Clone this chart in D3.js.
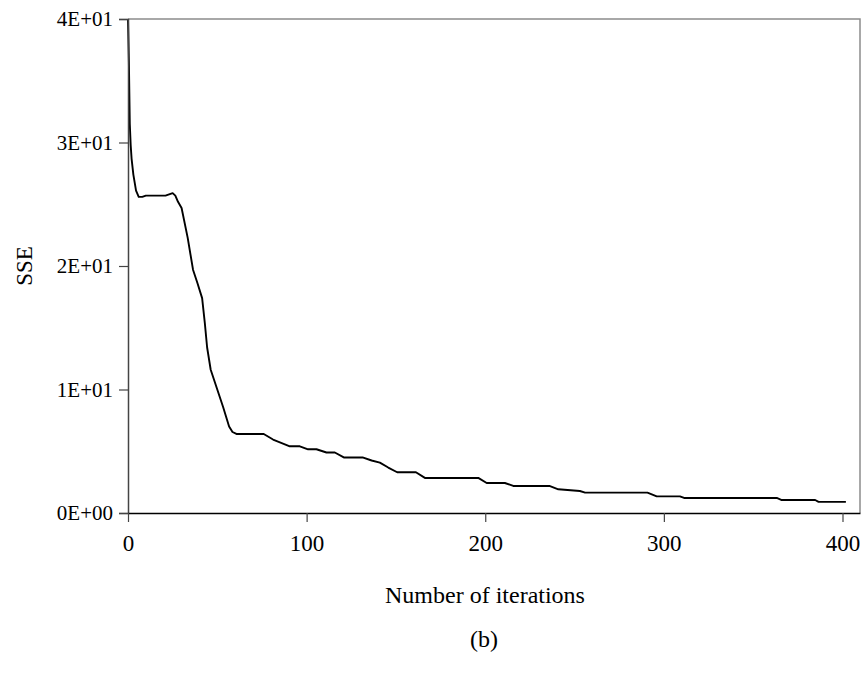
<!DOCTYPE html>
<html>
<head>
<meta charset="utf-8">
<script src="https://cdn.jsdelivr.net/npm/d3@7"></script>
<style>
  body { margin: 0; background: #fff; }
  text { font-family: "Liberation Serif", "Times New Roman", serif; fill: #000; }
</style>
</head>
<body>
<script>
// iterations vs SSE
const iterations = [0, 0.5, 1, 1.5, 2, 3, 4.5, 6, 8, 10, 21, 23, 25, 26.5, 28, 30, 33.4, 36.4, 38.9, 41.5, 43, 44.3, 46.3, 53.2, 56.6, 58.5, 60.7,
  76, 81.2, 90.6, 96.2, 100.8, 105.5, 111.1, 115.8, 120.8, 131.3, 136.4, 141, 145.7, 150.7, 161.2, 166.2, 196.1, 200.8, 211, 215.7,
  235.9, 240.9, 253, 255.9, 290.8, 296, 309, 311.3, 363.2, 366, 384.7, 386.6, 401.9];
const sse = [40, 36.5, 31.5, 29.8, 28.7, 27.4, 26.1, 25.6, 25.6, 25.7, 25.7, 25.8, 25.9, 25.7, 25.2, 24.7, 22.3, 19.7, 18.6, 17.4, 15.4, 13.4, 11.6, 8.6, 7.0, 6.56, 6.4,
  6.4, 5.95, 5.4, 5.4, 5.16, 5.16, 4.9, 4.9, 4.5, 4.5, 4.25, 4.08, 3.68, 3.3, 3.3, 2.84, 2.84, 2.43, 2.43, 2.19,
  2.19, 1.92, 1.78, 1.65, 1.65, 1.35, 1.35, 1.22, 1.22, 1.05, 1.05, 0.9, 0.9];
const xTicks = [0, 100, 200, 300, 400];
const yTicks = [0, 10, 20, 30, 40];
const yTickLabels = ["0E+00", "1E+01", "2E+01", "3E+01", "4E+01"];

const margin = { top: 19, right: 5, bottom: 164, left: 128 },
      width = 865, height = 677,
      pw = width - margin.left - margin.right,
      ph = height - margin.top - margin.bottom;

var x = d3.scaleLinear().domain([0, 409.8]).range([0, pw]);
var y = d3.scaleLinear().domain([0, 40]).range([ph, 0]);

var svg = d3.select("body").append("svg")
  .attr("width", width)
  .attr("height", height);

var g = svg.append("g")
  .attr("transform", "translate(" + margin.left + "," + margin.top + ")");

// plot area frame (top and right in gray)
g.append("path")
  .attr("d", "M0,0H" + pw + "V" + ph)
  .attr("fill", "none")
  .attr("stroke", "#8c8c8c")
  .attr("stroke-width", 1.5);

// the curve
var line = d3.line()
  .x(function (d, i) { return x(iterations[i]); })
  .y(function (d) { return y(d); });

g.append("path")
  .datum(sse)
  .attr("d", line)
  .attr("fill", "none")
  .attr("stroke", "#000")
  .attr("stroke-width", 1.9)
  .attr("stroke-linejoin", "round");

// Y axis
var yAxis = g.append("g")
  .call(d3.axisLeft(y).tickValues(yTicks).tickSize(9).tickPadding(6)
    .tickFormat(function (d, i) { return yTickLabels[i]; }));
yAxis.select(".domain").attr("stroke", "#444").attr("stroke-width", 1.5);
yAxis.selectAll(".tick line").attr("stroke", "#444").attr("stroke-width", 1.2);
yAxis.selectAll("text").style("font-size", "21px").style("font-family", "Liberation Serif");

// X axis
var xAxis = g.append("g")
  .attr("transform", "translate(0," + ph + ")")
  .call(d3.axisBottom(x).tickValues(xTicks).tickSize(9).tickPadding(13).tickSizeOuter(0));
xAxis.select(".domain").attr("stroke", "#000").attr("stroke-width", 1.5);
xAxis.selectAll(".tick line").attr("stroke", "#444").attr("stroke-width", 1.2);
xAxis.selectAll("text").style("font-size", "23px").style("font-family", "Liberation Serif");

// axis titles
svg.append("text")
  .attr("transform", "translate(32," + (margin.top + ph / 2) + ") rotate(-90)")
  .style("text-anchor", "middle")
  .style("font-size", "23px")
  .text("SSE");

svg.append("text")
  .attr("x", 485)
  .attr("y", 603)
  .style("text-anchor", "middle")
  .style("font-size", "24px")
  .text("Number of iterations");

svg.append("text")
  .attr("x", 484)
  .attr("y", 647)
  .style("text-anchor", "middle")
  .style("font-size", "24px")
  .text("(b)");
</script>
</body>
</html>
